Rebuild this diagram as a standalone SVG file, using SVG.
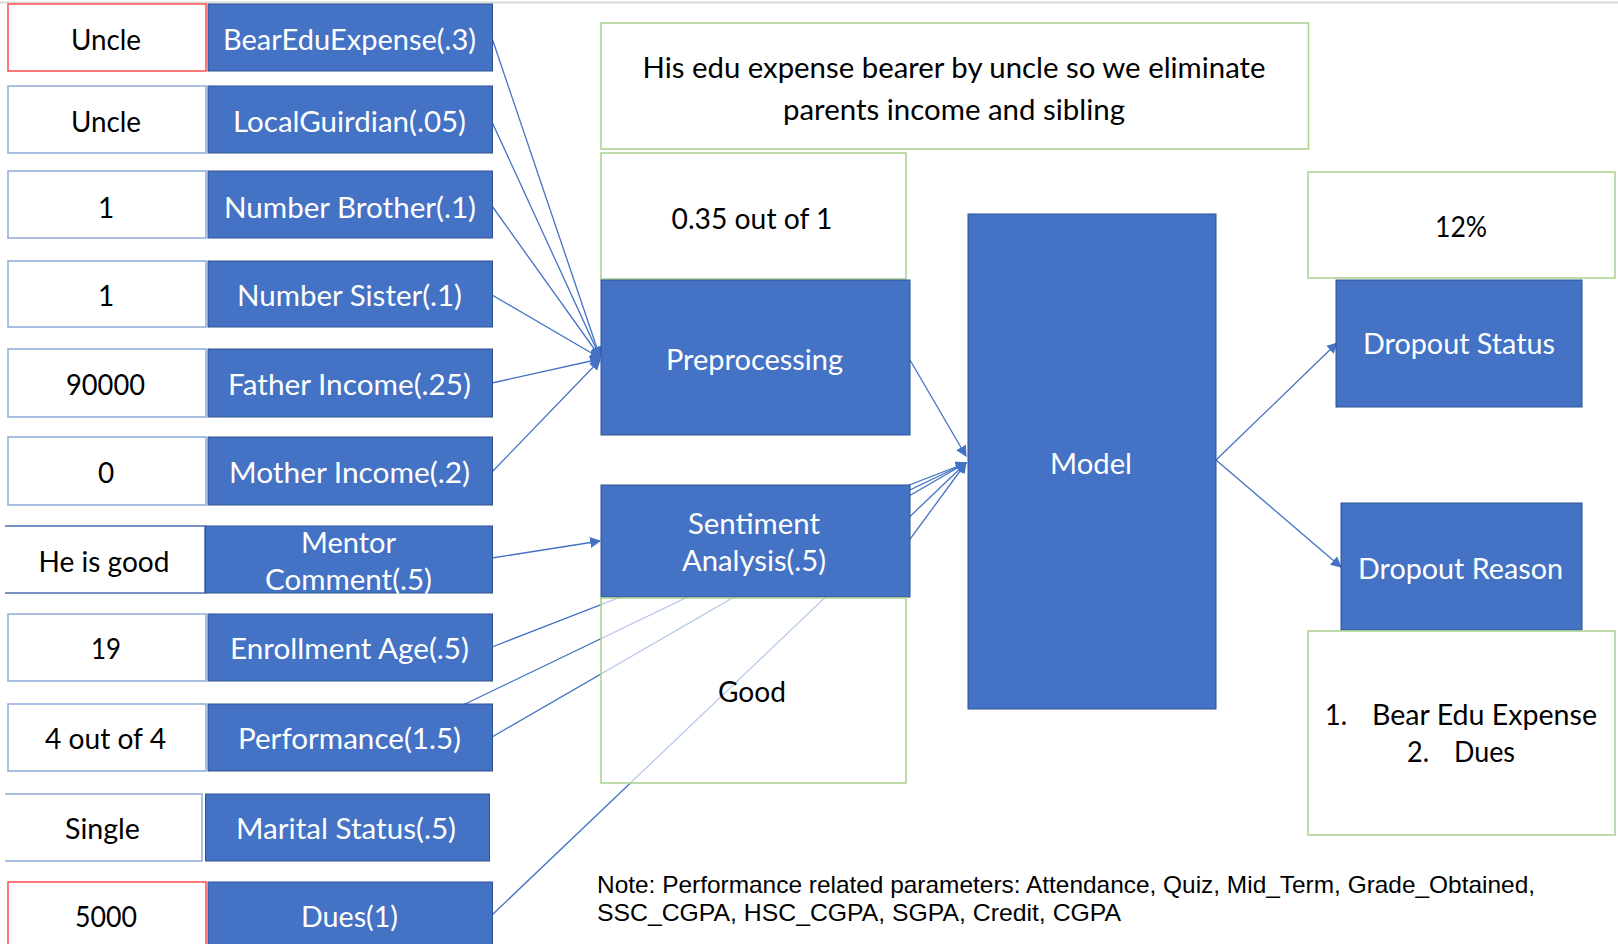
<svg xmlns="http://www.w3.org/2000/svg" width="1618" height="944" viewBox="0 0 1618 944">
<style>
.bl{fill:#4472C4;stroke:#2F528F;stroke-width:1}
.vb{fill:#FFFFFF;stroke:#8FAADC;stroke-width:1.5}
.rb{fill:#FFFFFF;stroke:#FF4B4B;stroke-width:1.5}
.gb{fill:#FFFFFF;stroke:#A9D18E;stroke-width:1.5}
.t{font-family:Lato,"Open Sans",sans-serif;font-size:28px;text-anchor:middle}
.w{fill:#FFFFFF}
.k{fill:#000000}
.n{font-family:"Liberation Sans",Arial,sans-serif;font-size:24px;fill:#000000}
.c{fill:none;stroke:#4472C4;stroke-width:1.3}
</style>
<defs>
<marker id="ah" viewBox="0 0 10 10" refX="9" refY="5" markerWidth="11" markerHeight="11" markerUnits="userSpaceOnUse" orient="auto"><path d="M0,0 L10,5 L0,10 z" fill="#4472C4"/></marker>
</defs>
<rect x="0" y="0" width="1618" height="944" fill="#FFFFFF"/>
<line x1="0" y1="2.5" x2="1618" y2="2.5" stroke="#D9D9D9" stroke-width="2"/>

<g id="connectors">
<line class="c" x1="492" y1="38" x2="600" y2="357" marker-end="url(#ah)"/>
<line class="c" x1="492" y1="122" x2="600" y2="357" marker-end="url(#ah)"/>
<line class="c" x1="492" y1="206" x2="600" y2="357" marker-end="url(#ah)"/>
<line class="c" x1="492" y1="295" x2="600" y2="358" marker-end="url(#ah)"/>
<line class="c" x1="492" y1="383" x2="600" y2="359" marker-end="url(#ah)"/>
<line class="c" x1="492" y1="472" x2="600" y2="360" marker-end="url(#ah)"/>
<line class="c" x1="492" y1="558" x2="600" y2="541" marker-end="url(#ah)"/>
<line class="c" x1="910" y1="360" x2="966" y2="456" marker-end="url(#ah)"/>
<line class="c" x1="492" y1="647" x2="966" y2="463" marker-end="url(#ah)"/>
<line class="c" x1="463" y1="705" x2="966" y2="463" marker-end="url(#ah)"/>
<line class="c" x1="492" y1="737" x2="966" y2="463" marker-end="url(#ah)"/>
<line class="c" x1="492" y1="915" x2="966" y2="463" marker-end="url(#ah)"/>
<line class="c" x1="880" y1="580" x2="966" y2="463" marker-end="url(#ah)"/>
<line class="c" x1="1216" y1="460" x2="1337" y2="343" marker-end="url(#ah)"/>
<line class="c" x1="1216" y1="460" x2="1341" y2="567" marker-end="url(#ah)"/>
</g>

<g id="row-bear">
<rect class="rb" x="8" y="4" width="198" height="67"/>
<rect class="bl" x="208" y="4" width="284.5" height="67"/>
<text class="t k" x="106" y="50" textLength="70" lengthAdjust="spacingAndGlyphs">Uncle</text>
<text class="t w" x="349.5" y="50" textLength="253" lengthAdjust="spacingAndGlyphs">BearEduExpense(.3)</text>
</g>
<g id="row-guardian">
<rect class="vb" x="8" y="86" width="198" height="67"/>
<rect class="bl" x="208" y="86" width="284.5" height="67"/>
<text class="t k" x="106" y="132" textLength="70" lengthAdjust="spacingAndGlyphs">Uncle</text>
<text class="t w" x="349.5" y="132" textLength="233" lengthAdjust="spacingAndGlyphs">LocalGuirdian(.05)</text>
</g>
<g id="row-brother">
<rect class="vb" x="8" y="171" width="198" height="67"/>
<rect class="bl" x="208" y="171" width="284.5" height="67"/>
<text class="t k" x="106" y="218">1</text>
<text class="t w" x="350" y="218" textLength="252" lengthAdjust="spacingAndGlyphs">Number Brother(.1)</text>
</g>
<g id="row-sister">
<rect class="vb" x="8" y="261" width="198" height="66"/>
<rect class="bl" x="208" y="261" width="284.5" height="66"/>
<text class="t k" x="106" y="306">1</text>
<text class="t w" x="349.5" y="306" textLength="225" lengthAdjust="spacingAndGlyphs">Number Sister(.1)</text>
</g>
<g id="row-father">
<rect class="vb" x="8" y="349" width="198" height="68"/>
<rect class="bl" x="208" y="349" width="284.5" height="68"/>
<text class="t k" x="105.5" y="395" textLength="79" lengthAdjust="spacingAndGlyphs">90000</text>
<text class="t w" x="349.5" y="395" textLength="243" lengthAdjust="spacingAndGlyphs">Father Income(.25)</text>
</g>
<g id="row-mother">
<rect class="vb" x="8" y="437" width="198" height="68"/>
<rect class="bl" x="208" y="437" width="284.5" height="68"/>
<text class="t k" x="106" y="483">0</text>
<text class="t w" x="349.5" y="483" textLength="241" lengthAdjust="spacingAndGlyphs">Mother Income(.2)</text>
</g>
<g id="row-mentor">
<path d="M5,526 H205 V593 H5" fill="#FFFFFF" stroke="#4A6FB5" stroke-width="1.5"/>
<rect class="bl" x="205.5" y="526" width="287" height="67"/>
<text class="t k" x="104" y="572" textLength="131" lengthAdjust="spacingAndGlyphs">He is good</text>
<text class="t w" x="348.5" y="553" textLength="95" lengthAdjust="spacingAndGlyphs">Mentor</text>
<text class="t w" x="348.5" y="590" textLength="167" lengthAdjust="spacingAndGlyphs">Comment(.5)</text>
</g>
<g id="row-age">
<rect class="vb" x="8" y="614" width="198" height="67"/>
<rect class="bl" x="208" y="614" width="284.5" height="67"/>
<text class="t k" x="106" y="659" textLength="30" lengthAdjust="spacingAndGlyphs">19</text>
<text class="t w" x="349.5" y="659" textLength="239" lengthAdjust="spacingAndGlyphs">Enrollment Age(.5)</text>
</g>
<g id="row-performance">
<rect class="vb" x="8" y="704" width="198" height="67"/>
<rect class="bl" x="208" y="704" width="284.5" height="67"/>
<text class="t k" x="105.5" y="749" textLength="121" lengthAdjust="spacingAndGlyphs">4 out of 4</text>
<text class="t w" x="349.5" y="749" textLength="223" lengthAdjust="spacingAndGlyphs">Performance(1.5)</text>
</g>
<g id="row-marital">
<path d="M5,794 H202 V861 H5" fill="#FFFFFF" stroke="#8FAADC" stroke-width="1.5"/>
<rect class="bl" x="205.5" y="794" width="284" height="67"/>
<text class="t k" x="102.5" y="839" textLength="75" lengthAdjust="spacingAndGlyphs">Single</text>
<text class="t w" x="346" y="839" textLength="220" lengthAdjust="spacingAndGlyphs">Marital Status(.5)</text>
</g>
<g id="row-dues">
<rect class="rb" x="8" y="882" width="198" height="70"/>
<rect class="bl" x="208" y="882" width="284.5" height="70"/>
<text class="t k" x="106" y="927" textLength="62" lengthAdjust="spacingAndGlyphs">5000</text>
<text class="t w" x="349.5" y="927" textLength="97" lengthAdjust="spacingAndGlyphs">Dues(1)</text>
</g>

<g id="note-box">
<rect class="gb" x="601" y="23" width="707.5" height="126"/>
<text class="t k" x="954" y="78" textLength="623" lengthAdjust="spacingAndGlyphs">His edu expense bearer by uncle so we eliminate</text>
<text class="t k" x="954" y="120" textLength="342" lengthAdjust="spacingAndGlyphs">parents income and sibling</text>
</g>
<g id="score-box">
<rect class="gb" x="601" y="153" width="305" height="126"/>
<text class="t k" x="752" y="229" textLength="161" lengthAdjust="spacingAndGlyphs">0.35 out of 1</text>
</g>
<g id="preprocessing">
<rect class="bl" x="601" y="280" width="309" height="155"/>
<text class="t w" x="754.5" y="370" textLength="177" lengthAdjust="spacingAndGlyphs">Preprocessing</text>
</g>
<g id="sentiment">
<rect class="bl" x="601" y="485" width="309" height="112"/>
<text class="t w" x="754" y="534" textLength="132" lengthAdjust="spacingAndGlyphs">Sentiment</text>
<text class="t w" x="754" y="571" textLength="144" lengthAdjust="spacingAndGlyphs">Analysis(.5)</text>
</g>
<g id="good-box">
<rect x="601" y="598" width="305" height="185" fill="#FFFFFF" fill-opacity="0.62" stroke="#A9D18E" stroke-width="1.5"/>
<text class="t k" x="752" y="702" textLength="68" lengthAdjust="spacingAndGlyphs">Good</text>
</g>
<g id="model">
<rect class="bl" x="968" y="214" width="248" height="495"/>
<text class="t w" x="1091" y="474" textLength="82" lengthAdjust="spacingAndGlyphs">Model</text>
</g>
<g id="percent-box">
<rect class="gb" x="1308" y="172" width="307" height="106"/>
<text class="t k" x="1461" y="237" textLength="52" lengthAdjust="spacingAndGlyphs">12%</text>
</g>
<g id="dropout-status">
<rect class="bl" x="1336" y="280" width="246" height="127"/>
<text class="t w" x="1459" y="354" textLength="192" lengthAdjust="spacingAndGlyphs">Dropout Status</text>
</g>
<g id="dropout-reason">
<rect class="bl" x="1341" y="503" width="241" height="127"/>
<text class="t w" x="1460.5" y="579" textLength="205" lengthAdjust="spacingAndGlyphs">Dropout Reason</text>
</g>
<g id="reason-list">
<rect class="gb" x="1308" y="631" width="307" height="204"/>
<text class="t k" x="1336" y="725" textLength="22" lengthAdjust="spacingAndGlyphs">1.</text>
<text class="t k" x="1484.5" y="725" textLength="225" lengthAdjust="spacingAndGlyphs">Bear Edu Expense</text>
<text class="t k" x="1418" y="762" textLength="22" lengthAdjust="spacingAndGlyphs">2.</text>
<text class="t k" x="1484.5" y="762" textLength="61" lengthAdjust="spacingAndGlyphs">Dues</text>
</g>
<g id="footnote">
<text class="n" x="597" y="893" textLength="938" lengthAdjust="spacingAndGlyphs">Note: Performance related parameters: Attendance, Quiz, Mid_Term, Grade_Obtained,</text>
<text class="n" x="597" y="921" textLength="524" lengthAdjust="spacingAndGlyphs">SSC_CGPA, HSC_CGPA, SGPA, Credit, CGPA</text>
</g>
</svg>
